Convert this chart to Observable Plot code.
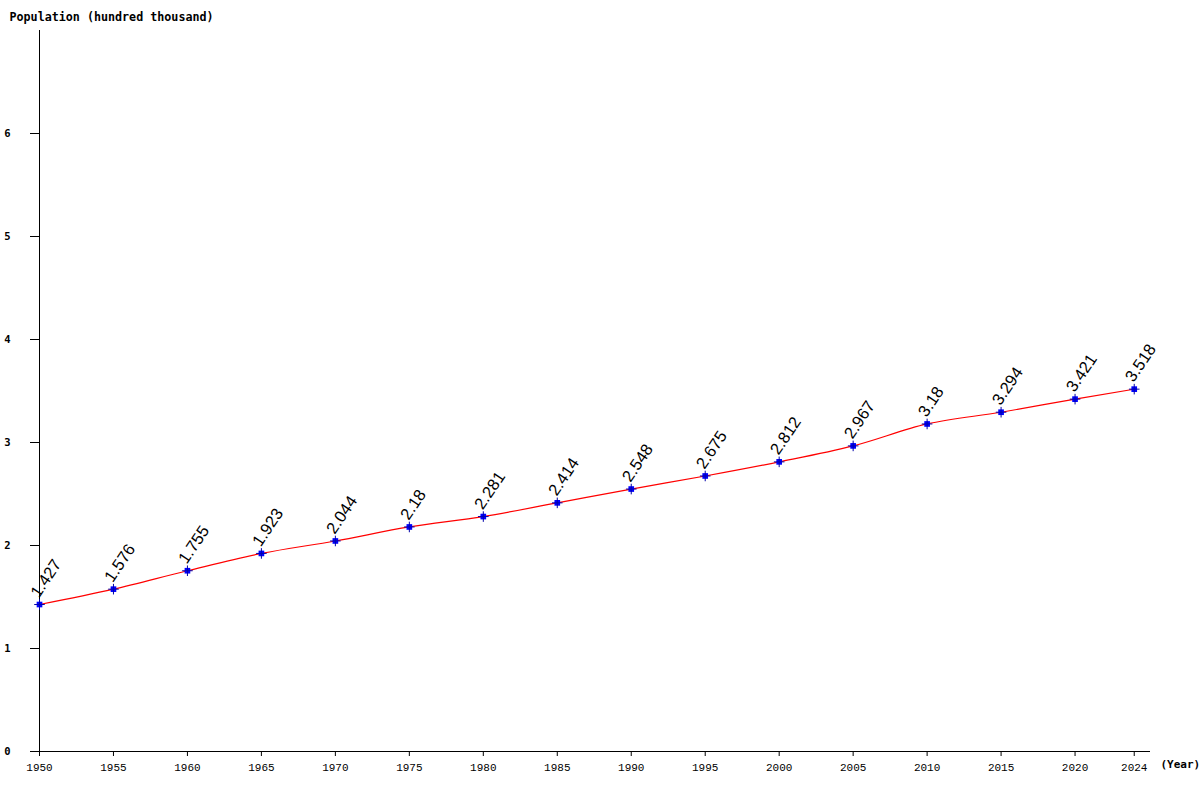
<!DOCTYPE html>
<html>
<head>
<meta charset="utf-8">
<script src="https://cdn.jsdelivr.net/npm/d3@7"></script>
<script src="https://cdn.jsdelivr.net/npm/@observablehq/plot@0.6"></script>
<style>
  html, body { margin: 0; padding: 0; background: #fff; }
  svg { display: block; }
</style>
</head>
<body>
<div id="chart"></div>
<script>
const years = [1950, 1955, 1960, 1965, 1970, 1975, 1980, 1985, 1990, 1995, 2000, 2005, 2010, 2015, 2020, 2024];
const population = [1.427, 1.576, 1.755, 1.923, 2.044, 2.18, 2.281, 2.414, 2.548, 2.675, 2.812, 2.967, 3.18, 3.294, 3.421, 3.518];
const labels = ["1.427", "1.576", "1.755", "1.923", "2.044", "2.18", "2.281", "2.414", "2.548", "2.675", "2.812", "2.967", "3.18", "3.294", "3.421", "3.518"];
const xTicks = [1950, 1955, 1960, 1965, 1970, 1975, 1980, 1985, 1990, 1995, 2000, 2005, 2010, 2015, 2020, 2024];
const yTicks = [0, 1, 2, 3, 4, 5, 6];
const yTitle = "Population (hundred thousand)";
const xTitle = "(Year)";

const data = years.map((y, i) => ({ year: y, value: population[i], label: labels[i] }));

const mono = "'DejaVu Sans Mono', 'Liberation Mono', monospace";
const thinMono = "'Liberation Mono', 'DejaVu Sans Mono', monospace";

const chart = Plot.plot({
  width: 1200,
  height: 800,
  marginLeft: 39,
  marginRight: 50,
  marginTop: 30,
  marginBottom: 49,
  style: { background: "#fff", fontFamily: mono, fontSize: "11px", color: "#000" },
  x: { domain: [1950, 2025.1] },
  y: { domain: [0, 7] },
  marks: [
    Plot.axisX({ ticks: xTicks, tickFormat: d => String(d), tickSize: 5, tickPadding: 7, label: null, stroke: "#000", fontFamily: thinMono, fontSize: 11, fontWeight: "normal" }),
    Plot.axisY({ ticks: yTicks, tickFormat: d => String(d), tickSize: 9, tickPadding: 20, label: null, stroke: "#000", fontFamily: mono, fontSize: 10.5, fontWeight: "bold" }),
    Plot.ruleX([1950], { stroke: "#000", strokeWidth: 1 }),
    Plot.ruleY([0], { stroke: "#000", strokeWidth: 1 }),
    Plot.line(data, { x: "year", y: "value", stroke: "#ff0000", strokeWidth: 1.2, curve: "monotone-x" }),
    Plot.dot(data, { x: "year", y: "value", symbol: "square", r: 3.2, fill: "#0000ff", stroke: "none" }),
    Plot.dot(data, { x: "year", y: "value", symbol: "plus", r: 3.5, stroke: "#0000aa", strokeWidth: 1 }),
    Plot.text(data, { x: "year", y: "value", text: "label", rotate: -56, textAnchor: "start", dx: -5, dy: -9, fontSize: 16.5, fontFamily: "'Liberation Sans', Arial, sans-serif", fill: "#000" }),
    Plot.text([yTitle], { frameAnchor: "top-left", text: d => d, dx: -30, dy: -18, textAnchor: "start", fontFamily: mono, fontSize: 11.7, fontWeight: "bold", fill: "#000" }),
    Plot.text([xTitle], { frameAnchor: "bottom-right", text: d => d, dx: 10, dy: 16, textAnchor: "start", fontFamily: mono, fontSize: 11, fontWeight: "bold", fill: "#000" })
  ]
});

document.getElementById("chart").appendChild(chart);
</script>
</body>
</html>
